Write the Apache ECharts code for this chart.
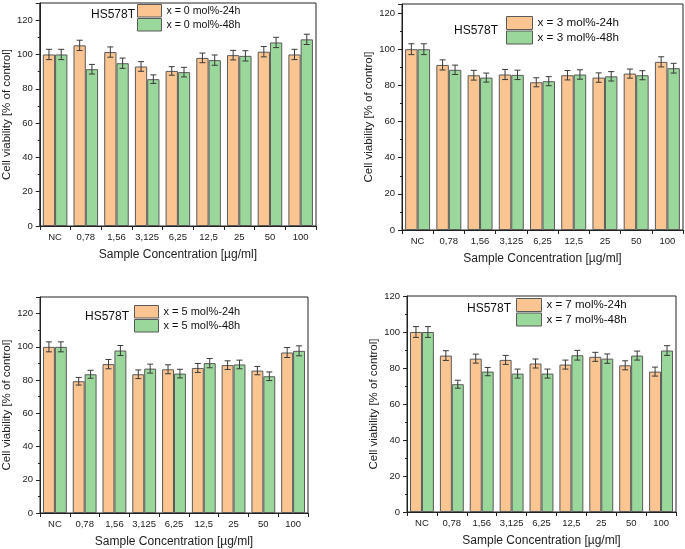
<!DOCTYPE html>
<html><head><meta charset="utf-8">
<script src="https://cdn.jsdelivr.net/npm/echarts@6/dist/echarts.min.js"></script>
<style>html,body{margin:0;padding:0;background:#fff}#c{width:685px;height:549px}</style>
</head><body><div id="c"></div>
<script>
const categories = ['NC','0,78','1,56','3,125','6,25','12,5','25','50','100'];
const yTicks = [0,20,40,60,80,100,120];

const p0_24h = [100,105.3,101.4,93,90.4,98,99.6,101.6,100];
const p0_48h = [100,91.4,94.9,85.6,89.7,96.7,99.2,107,108.8];
const p0_err24 = [3,3,3,2.8,2.5,2.8,2.8,3,3];
const p0_err48 = [3,2.8,3,2.5,2.8,3,3,3,3];

const p3_24h = [100,91.3,85.6,86,81.7,85.6,84.3,86.5,93];
const p3_48h = [100,88.6,84.3,85.8,82.3,86,85,85.6,89.5];
const p3_err24 = [3,2.8,2.7,2.8,2.5,2.6,2.6,2.5,2.8];
const p3_err48 = [3,2.6,2.5,2.6,2.5,2.6,2.6,2.5,2.7];

const p5_24h = [100,79.3,89.6,83.5,86.5,87.3,89,85.7,96.6];
const p5_48h = [100,83.5,97.8,86.9,83.9,90.2,89.4,82.3,97.6];
const p5_err24 = [3,2.3,2.8,2.6,2.7,2.7,2.6,2.5,3];
const p5_err48 = [3,2.4,3,2.7,2.6,2.8,2.6,2.6,3];

const p7_24h = [100,86.9,85.2,84.5,82.5,81.9,86.2,81.5,78];
const p7_48h = [100,71,78,76.9,76.9,87.1,85.2,86.9,89.7];
const p7_err24 = [3,2.7,2.5,2.5,2.5,2.5,2.5,2.5,2.5];
const p7_err48 = [3,2.2,2.3,2.5,2.5,2.7,2.6,2.5,2.7];

const panelNames = ['x = 0 mol%','x = 3 mol%','x = 5 mol%','x = 7 mol%'];
const cellLine = 'HS578T';
const xTitle = 'Sample Concentration [\u00b5g/ml]';
const yTitle = 'Cell viability [% of control]';

const panels = [
  {n:panelNames[0], a:p0_24h, b:p0_48h, ea:p0_err24, eb:p0_err48},
  {n:panelNames[1], a:p3_24h, b:p3_48h, ea:p3_err24, eb:p3_err48},
  {n:panelNames[2], a:p5_24h, b:p5_48h, ea:p5_err24, eb:p5_err48},
  {n:panelNames[3], a:p7_24h, b:p7_48h, ea:p7_err24, eb:p7_err48}
];

// layout
const grids = [
  {left:37, top:3, width:279, height:223},
  {left:402, top:4, width:281, height:226},
  {left:40, top:297, width:268, height:216},
  {left:407, top:296, width:269, height:216}
];
const yMax = [130,125,130,120];
const legendPos = [
  {left:137, top:4, w:24, h:12.5, fs:10.6},
  {left:506, top:16, w:26, h:13, fs:11.7},
  {left:134, top:305, w:24, h:12.5, fs:11},
  {left:516, top:298, w:25, h:13, fs:11.5}
];
const titlePos = [[112,15.5],[475,32],[106,318],[488,310]];

const ORANGE = '#FBC592', GREEN = '#9AD79B', EDGE = '#5a5a5a';
const FONT = 'Liberation Sans, Arial, sans-serif';

const option = {
  animation:false,
  backgroundColor:'#fff',
  grid: grids.map(g=>Object.assign({show:true, borderColor:'#222', borderWidth:1, backgroundColor:'transparent'}, g)),
  xAxis: grids.map((g,i)=>({
    type:'category', gridIndex:i, data:categories,
    axisLine:{lineStyle:{color:'#222', width:1}},
    axisTick:{show:true, inside:false, length:4, interval:0, lineStyle:{color:'#222'}},
    axisLabel:{fontFamily:FONT, fontSize:9.5, color:'#222', margin:6, interval:0, hideOverlap:false},
    name:xTitle, nameLocation:'middle', nameGap:23,
    nameTextStyle:{fontFamily:FONT, fontSize:12, color:'#222'}
  })),
  yAxis: grids.map((g,i)=>({
    type:'value', gridIndex:i, min:0, max:yMax[i], interval:20,
    splitLine:{show:false},
    axisLine:{show:true, lineStyle:{color:'#222', width:1}},
    axisTick:{show:true, inside:false, length:4, lineStyle:{color:'#222'}},
    minorTick:{show:true, splitNumber:2, length:2, lineStyle:{color:'#222'}},
    axisLabel:{fontFamily:FONT, fontSize:9.5, color:'#222', margin:7,
      formatter:v=> yTicks.indexOf(v)>=0 ? String(v) : ''},
    name:yTitle, nameLocation:'middle', nameGap:24, nameRotate:90,
    nameTextStyle:{fontFamily:FONT, fontSize:11.5, color:'#222'}
  })),
  legend: panels.map((p,i)=>({
    orient:'vertical', left:legendPos[i].left, top:legendPos[i].top,
    itemWidth:legendPos[i].w, itemHeight:legendPos[i].h, itemGap:0.5,
    padding:0, icon:'rect',
    data:[p.n+'-24h', p.n+'-48h'],
    textStyle:{fontFamily:FONT, fontSize:legendPos[i].fs, color:'#111', lineHeight:12},
    itemStyle:{borderColor:EDGE, borderWidth:1}
  })),
  graphic: titlePos.map(t=>({
    type:'text', left:t[0]-21, top:t[1]-7,
    style:{text:cellLine, font:'12px '+FONT, fill:'#111'}
  })),
  series:[]
};

function errSeries(idx, vals, errs, side){
  return {
    type:'custom', xAxisIndex:idx, yAxisIndex:idx, silent:true, z:5,
    data: vals.map((v,k)=>[k, v, errs[k]]),
    renderItem:(params, api)=>{
      const c = api.value(0), v = api.value(1), e = api.value(2);
      const band = api.size([1,0])[0];
      const top = api.coord([c, v+e]);
      const bot = api.coord([c, v-e]);
      const x = top[0] + side*band*0.2;
      const cap = 3;
      const st = {stroke:'#3a3a3a', lineWidth:1};
      return {type:'group', children:[
        {type:'line', shape:{x1:x, y1:top[1], x2:x, y2:bot[1]}, style:st},
        {type:'line', shape:{x1:x-cap, y1:top[1], x2:x+cap, y2:top[1]}, style:st},
        {type:'line', shape:{x1:x-cap, y1:bot[1], x2:x+cap, y2:bot[1]}, style:st}
      ]};
    }
  };
}

panels.forEach((p,i)=>{
  option.series.push({
    name:p.n+'-24h', type:'bar', xAxisIndex:i, yAxisIndex:i, data:p.a,
    barGap:'0%', barCategoryGap:'20%',
    itemStyle:{color:ORANGE, borderColor:EDGE, borderWidth:1}
  });
  option.series.push({
    name:p.n+'-48h', type:'bar', xAxisIndex:i, yAxisIndex:i, data:p.b,
    barGap:'0%', barCategoryGap:'20%',
    itemStyle:{color:GREEN, borderColor:EDGE, borderWidth:1}
  });
  option.series.push(errSeries(i, p.a, p.ea, -1));
  option.series.push(errSeries(i, p.b, p.eb, 1));
});

const chart = echarts.init(document.getElementById('c'), null, {renderer:'canvas'});
chart.setOption(option);
</script>
</body></html>
